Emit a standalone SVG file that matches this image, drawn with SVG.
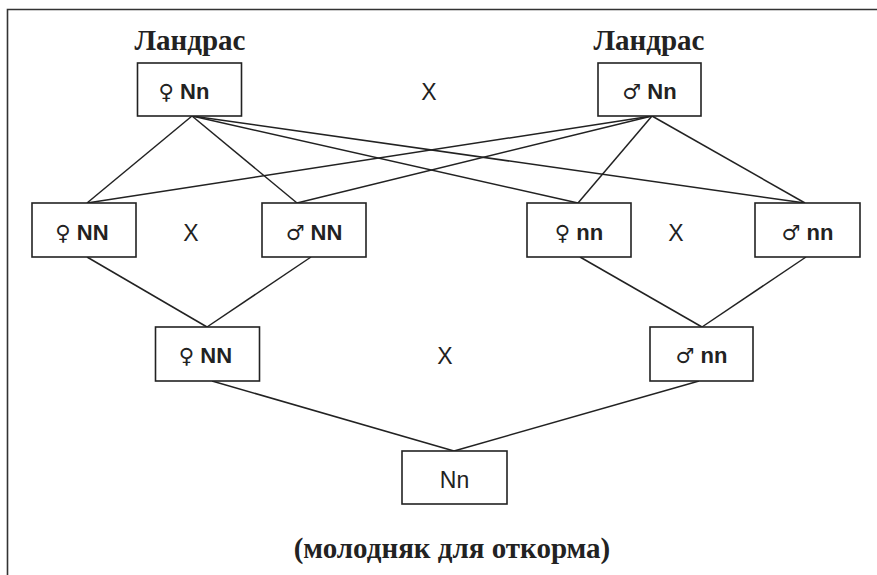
<svg xmlns="http://www.w3.org/2000/svg" width="877" height="575" viewBox="0 0 877 575">
<style>
.box{fill:#fff;stroke:#222;stroke-width:1.6}
.lbl{font-family:"Liberation Sans",Arial,sans-serif;font-weight:bold;font-size:22px;fill:#222;text-anchor:middle}
.sym{font-family:"DejaVu Sans",sans-serif;font-weight:bold;font-size:21px}
.reg{font-family:"Liberation Sans",Arial,sans-serif;font-size:23px;fill:#222;text-anchor:middle}
.ser{font-family:"Liberation Serif","Times New Roman",serif;font-weight:bold;font-size:29px;fill:#222;text-anchor:middle}
.con line{stroke:#222;stroke-width:1.5}
</style>
<rect x="0" y="0" width="877" height="575" fill="#fff"/>
<path d="M7.5 575 V9.5 H877" fill="none" stroke="#333" stroke-width="1.6"/>
<g id="connectors" class="con">
<line x1="192" y1="116" x2="87" y2="203"/>
<line x1="192" y1="116" x2="297" y2="203"/>
<line x1="192" y1="116" x2="578" y2="203"/>
<line x1="192" y1="116" x2="805" y2="203"/>
<line x1="652" y1="116" x2="87" y2="203"/>
<line x1="652" y1="116" x2="297" y2="203"/>
<line x1="652" y1="116" x2="578" y2="203"/>
<line x1="652" y1="116" x2="805" y2="203"/>
<line x1="87" y1="257" x2="207" y2="327"/>
<line x1="311" y1="257" x2="207" y2="327"/>
<line x1="580" y1="257" x2="702" y2="327"/>
<line x1="806" y1="257" x2="702" y2="327"/>
<line x1="212" y1="381" x2="454" y2="451"/>
<line x1="699" y1="381" x2="454" y2="451"/>
</g>
<g id="label-landrace-left"><text class="ser" x="190" y="50">Ландрас</text></g>
<g id="label-landrace-right"><text class="ser" x="649" y="50">Ландрас</text></g>
<g id="node-f-Nn"><rect class="box" x="137.5" y="63" width="104" height="53"/><text class="lbl" x="184" y="99"><tspan class="sym">♀</tspan> Nn</text></g>
<g id="node-m-Nn"><rect class="box" x="598" y="63" width="103" height="53"/><text class="lbl" x="649.5" y="99"><tspan class="sym">♂</tspan> Nn</text></g>
<g id="cross-1"><text class="reg" x="429" y="100">X</text></g>
<g id="node-f-NN"><rect class="box" x="32" y="203" width="104" height="54"/><text class="lbl" x="82" y="240"><tspan class="sym">♀</tspan> NN</text></g>
<g id="node-m-NN"><rect class="box" x="262" y="203" width="104" height="54"/><text class="lbl" x="314" y="240"><tspan class="sym">♂</tspan> NN</text></g>
<g id="node-f-nn"><rect class="box" x="527" y="203" width="104" height="54"/><text class="lbl" x="579" y="240"><tspan class="sym">♀</tspan> nn</text></g>
<g id="node-m-nn"><rect class="box" x="755" y="203" width="105" height="54"/><text class="lbl" x="807.5" y="240"><tspan class="sym">♂</tspan> nn</text></g>
<g id="cross-2"><text class="reg" x="191" y="241">X</text></g>
<g id="cross-3"><text class="reg" x="676" y="241">X</text></g>
<g id="node-f-NN-2"><rect class="box" x="155.5" y="327" width="104" height="54"/><text class="lbl" x="205.5" y="363"><tspan class="sym">♀</tspan> NN</text></g>
<g id="node-m-nn-2"><rect class="box" x="650" y="327" width="103" height="54"/><text class="lbl" x="701.5" y="363"><tspan class="sym">♂</tspan> nn</text></g>
<g id="cross-4"><text class="reg" x="445" y="364">X</text></g>
<g id="node-Nn"><rect class="box" x="402" y="451" width="105" height="53" stroke-width="2.2"/><text class="reg" x="454.5" y="488">Nn</text></g>
<g id="caption"><text class="ser" x="452" y="558">(молодняк для откорма)</text></g>
</svg>
